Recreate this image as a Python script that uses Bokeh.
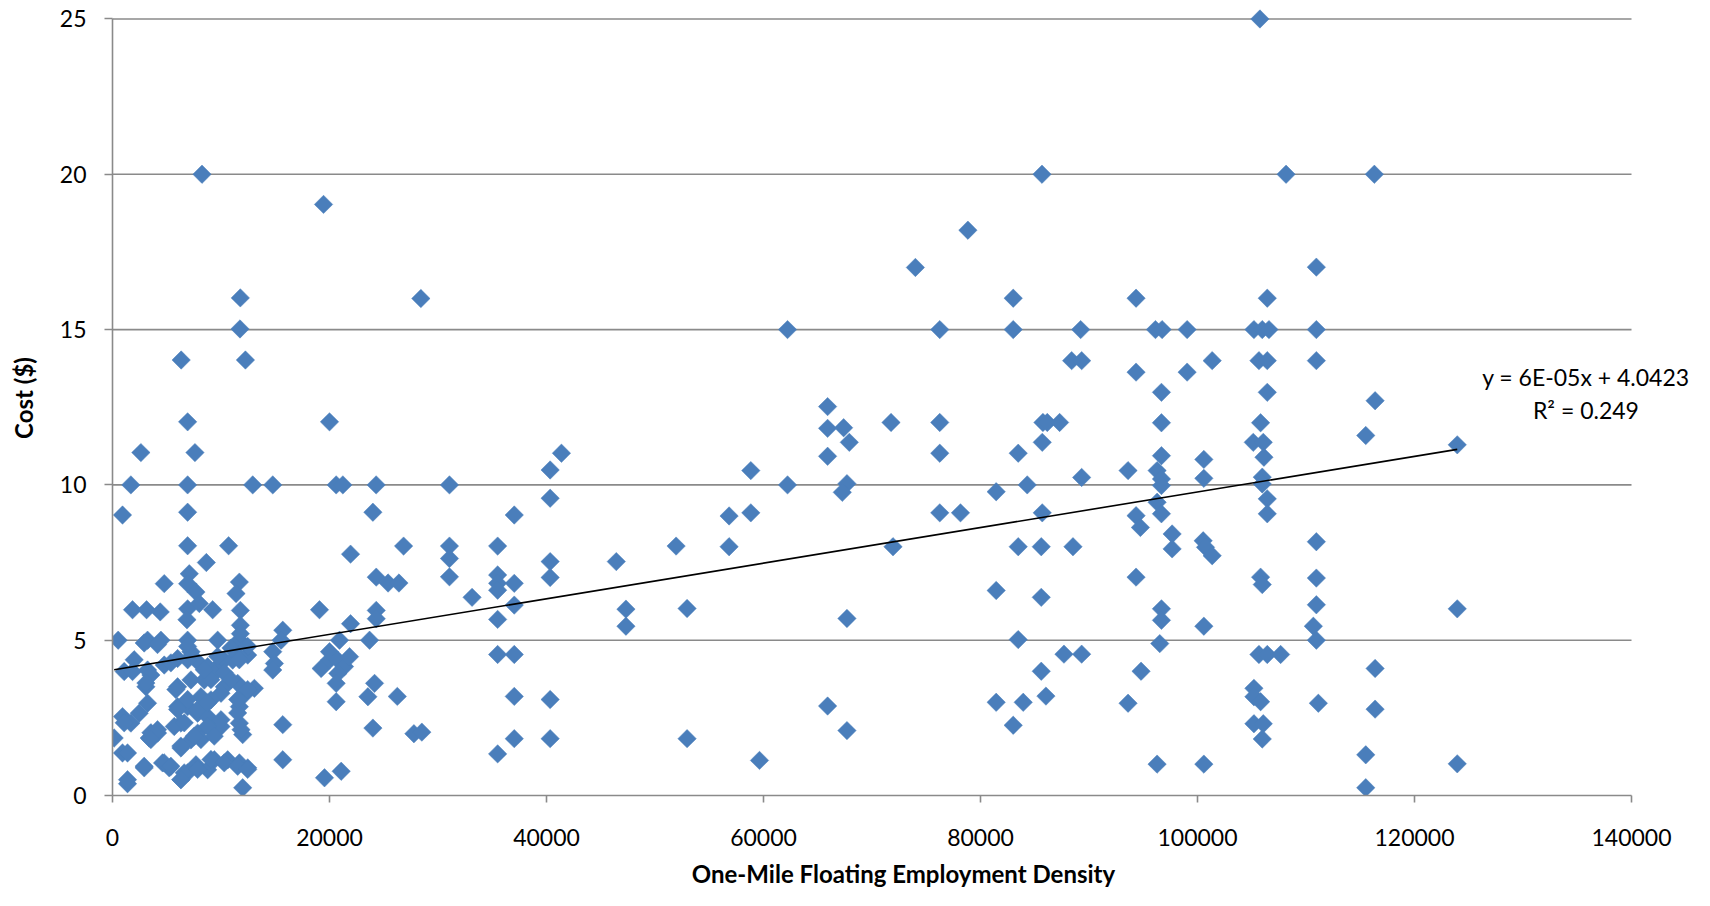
import numpy as np
from bokeh.plotting import figure
from bokeh.models import Label, FixedTicker, BasicTickFormatter
from bokeh.embed import file_html
from bokeh.resources import INLINE

# ---- data ----
# Region A: density below ~29000
dens_a = [8250, 19450, 11780, 11750, 12250, 6330, 28420,
          6923, 20000, 2615, 7600, 1692, 6923, 12923, 14770, 20615, 21230, 24300,
          923, 6923, 24000, 6923, 10700, 21940,
          7077, 8650, 4769, 6923, 7692, 11693, 11385, 24308,
          1846, 3139, 4400, 6923, 6862, 8000, 9231, 11785, 11785, 19077, 24308, 24308,
          21939, 15693, 15539, 523, 3231, 4462, 6923, 9693, 11693, 11785, 23693, 20924,
          1077, 1846, 3231, 4769, 6000, 7231, 7846, 8770, 9693, 10308, 11077, 11693,
          12462, 14770, 14923, 14770, 19231, 20000, 20000, 20770, 21385, 21847, 20770, 20616,
          3077, 3539, 6000, 7231, 8462, 9385, 10308, 11539, 13077, 12154, 11693, 11693,
          12000, 10000, 9077, 8154, 6923, 6000, 6308, 7846, 8770, 9385, 10000, 7846,
          7231, 5692, 3231, 2462, 923, 1692, 154, 923, 3385, 4154, 6308, 2923,
          4615, 5231, 6308, 6923, 7692, 8770, 9385, 10616, 11693, 12462, 1385, 12000,
          15693, 15693, 20616, 23539, 24154, 24000, 19539, 21077,
          25400, 26400, 26829, 26250, 27780, 28510]
cost_a = [20.0, 19.03, 16.02, 15.02, 14.02, 14.02, 16.0,
          12.03, 12.03, 11.04, 11.04, 10.0, 10.0, 10.0, 10.0, 10.0, 10.0, 10.0,
          9.03, 9.12, 9.12, 8.04, 8.04, 7.77,
          7.14, 7.5, 6.82, 6.82, 6.55, 6.87, 6.50, 7.03,
          5.98, 5.98, 5.91, 6.01, 5.66, 6.18, 5.98, 5.96, 5.48, 5.98, 5.96, 5.69,
          5.53, 5.32, 5.0, 5.0, 5.0, 5.0, 5.0, 5.0, 5.0, 5.21, 5.0, 5.0,
          3.99, 3.99, 4.04, 4.20, 4.41, 4.63, 4.31, 4.15, 4.15, 4.36, 4.36, 4.47,
          4.52, 4.63, 4.25, 4.04, 4.09, 4.36, 4.63, 4.36, 4.15, 4.47, 3.93, 3.61,
          3.50, 3.88, 3.50, 3.72, 3.72, 3.93, 3.50, 3.61, 3.45, 3.24, 2.86, 2.33,
          1.96, 3.29, 3.08, 3.18, 2.86, 2.86, 2.33, 2.65, 2.54, 2.22, 2.22, 2.01,
          1.79, 2.22, 2.97, 2.65, 2.54, 2.33, 1.85, 1.37, 1.85, 2.01, 1.53, 0.89,
          1.05, 0.89, 0.51, 0.73, 0.99, 0.83, 1.15, 1.15, 1.05, 0.89, 0.38, 0.25,
          1.15, 2.28, 3.02, 3.18, 3.61, 2.17, 0.57, 0.78,
          6.84, 6.84, 8.03, 3.19, 1.99, 2.04]

# Region A, densest cluster (overlapping markers)
dens_a_cluster = [5843, 6923, 6000, 7846, 8770, 6615, 8770, 10000, 11538, 11846,
                  8150, 9380, 10300, 9075, 8455, 12460, 11538, 3077, 1077, 3538,
                  4150, 4765, 5380, 6615, 7846, 9075, 10300, 11538, 12460, 1385,
                  2918, 1385, 6300, 6300, 3538, 7535, 2000, 2920, 4150, 6923,
                  10920, 12460, 6923, 5380, 9690, 11690, 10920]
cost_a_cluster = [3.41, 3.09, 2.77, 2.77, 2.98, 2.34, 2.23, 2.44, 2.66, 2.12,
                  1.80, 1.91, 3.95, 3.73, 4.05, 3.41, 3.09, 3.62, 2.34, 2.02,
                  2.12, 1.05, 0.94, 0.73, 0.84, 1.16, 1.05, 0.94, 0.84, 1.37,
                  0.94, 0.51, 0.51, 1.59, 1.80, 1.91, 4.37, 4.91, 4.86, 4.80,
                  4.75, 4.80, 4.37, 4.27, 4.48, 4.37, 3.73]

# Region B: density ~29000 - 60000
dens_b = [41378, 40337, 31056, 40337, 37030, 31056, 35497, 31056, 31056, 40337,
          40337, 46432, 51946, 35497, 35497, 35497, 37030, 33140, 37030, 35497,
          47321, 47321, 52957, 35497, 37030, 37030, 40337, 35497, 37030, 40337,
          52957, 58830, 56830, 58830, 56830, 59631]
cost_b = [11.02, 10.48, 10.0, 9.57, 9.03, 8.03, 8.03, 7.63, 7.04, 7.53,
          7.02, 7.53, 8.03, 7.1, 6.83, 6.61, 6.83, 6.38, 6.13, 5.67,
          6.0, 5.45, 6.02, 4.54, 4.54, 3.19, 3.09, 1.34, 1.83, 1.83,
          1.83, 10.46, 9.0, 9.1, 8.01, 1.13]

# Region C: density ~60000 - 92000
dens_c = [74000, 83016, 62215, 76246, 83016, 89231, 88400, 89323, 65908, 65908,
          67385, 67908, 71754, 76246, 76246, 65908, 85754, 86154, 87292, 85692,
          83477, 62215, 67692, 67262, 81446, 84308, 89323, 76246, 78154, 85692,
          71938, 83477, 85600, 88523, 81446, 85600, 67692, 83477, 87692, 89323,
          85600, 86030, 81446, 83938, 83016, 65908, 67692,
          78838, 85667]
cost_c = [17.0, 16.01, 15.0, 15.0, 15.0, 15.0, 14.0, 14.0, 12.52, 11.82,
          11.84, 11.37, 12.01, 12.01, 11.02, 10.92, 12.01, 12.01, 12.01, 11.37,
          11.02, 10.0, 10.04, 9.76, 9.78, 10.0, 10.24, 9.1, 9.1, 9.1,
          8.01, 8.01, 8.01, 8.01, 6.6, 6.38, 5.7, 5.02, 4.55, 4.55,
          4.0, 3.2, 3.0, 3.0, 2.26, 2.88, 2.09,
          18.2, 20.0]

# Region D: density above ~92000
dens_d = [110954, 94338, 106431, 96123, 96738, 99046, 105200, 105969, 106585, 110954,
          101354, 105662, 106431, 110954, 94338, 99046, 96677, 106431, 116369, 96677,
          105815, 115508, 105138, 106062, 96677, 106123, 100585, 93600, 96277, 96677,
          100585, 96677, 105969, 105969, 96277, 106431, 96677, 94338, 106431,
          94738, 97662, 97662, 100523, 100738, 101354, 110954, 94338, 105815, 105969,
          110954, 110954, 96677, 96677, 100585, 110677, 110954, 96523, 105662, 106431,
          107662, 116369, 94800, 105200, 105200, 105815, 111138, 116369, 105200, 106062,
          105969, 93600, 96277, 100585, 115508, 115508,
          123941, 123941, 123941, 108163, 116300, 105753]
cost_d = [17.01, 16.01, 16.01, 15.0, 15.0, 15.0, 15.0, 15.0, 15.0, 15.0,
          14.0, 14.0, 14.0, 14.0, 13.63, 13.63, 12.98, 12.98, 12.71, 12.0,
          12.0, 11.59, 11.37, 11.37, 10.94, 10.89, 10.82, 10.46, 10.46, 10.19,
          10.21, 9.98, 10.25, 10.03, 9.44, 9.55, 9.07, 9.01, 9.07,
          8.63, 8.42, 7.94, 8.2, 7.99, 7.72, 8.17, 7.03, 7.03, 6.79,
          7.0, 6.14, 6.01, 5.64, 5.45, 5.45, 5.0, 4.89, 4.54, 4.54,
          4.54, 4.09, 4.0, 3.45, 3.18, 3.02, 2.97, 2.78, 2.31, 2.31,
          1.82, 2.97, 1.01, 1.01, 1.31, 0.25,
          11.29, 6.01, 1.02, 20.0, 20.0, 25.0]

x_ticks = [0, 20000, 40000, 60000, 80000, 100000, 120000, 140000]
y_ticks = [0, 5, 10, 15, 20, 25]

trend_intercept = 4.0423
trend_slope = 5.73e-05
equation_text = "y = 6E-05x + 4.0423"
r2_text = "R\u00b2 = 0.249"

x_title = "One-Mile Floating Employment Density"
y_title = "Cost ($)"

# ---- layout (pixels) ----
W, H = 1694, 890
LEFT, BOTTOM = 112, 94
AXIS_W = 1519            # pixel width of 0..140000
AXIS_H = 777.5           # pixel height of 0..25
FRAME_W = W - LEFT
FRAME_H = H - BOTTOM

x_lo, x_hi = x_ticks[0], x_ticks[-1]
y_lo, y_hi = y_ticks[0], y_ticks[-1]
x_view_hi = x_hi * FRAME_W / AXIS_W
y_view_hi = y_hi * FRAME_H / AXIS_H

xs = np.array(dens_a + dens_a_cluster + dens_b + dens_c + dens_d, dtype=float)
ys = np.array(cost_a + cost_a_cluster + cost_b + cost_c + cost_d, dtype=float)

FONT = "Lato"
GRAY = "#8a8a8a"

p = figure(width=W, height=H, output_backend="svg", toolbar_location=None,
           x_range=(x_lo, x_view_hi), y_range=(y_lo, y_view_hi),
           min_border_left=LEFT, min_border_right=0, min_border_top=0,
           min_border_bottom=BOTTOM)

p.outline_line_color = None
p.background_fill_color = "white"
p.border_fill_color = "white"
p.xgrid.grid_line_color = None
p.ygrid.grid_line_color = None

# horizontal gridlines limited to the axis span
gy = y_ticks[1:]
p.segment(x0=[x_lo] * len(gy), x1=[x_hi] * len(gy), y0=gy, y1=gy,
          line_color=GRAY, line_width=1.6)

p.xaxis.ticker = FixedTicker(ticks=x_ticks)
p.yaxis.ticker = FixedTicker(ticks=y_ticks)
p.xaxis.formatter = BasicTickFormatter(use_scientific=False)
p.xaxis.bounds = (x_lo, x_hi)
p.yaxis.bounds = (y_lo, y_hi)

for ax in (p.xaxis, p.yaxis):
    ax.axis_line_color = GRAY
    ax.axis_line_width = 1.6
    ax.major_tick_line_color = GRAY
    ax.major_tick_line_width = 1.6
    ax.minor_tick_line_color = None
    ax.major_tick_in = 0
    ax.major_label_text_font = FONT
    ax.major_label_text_font_size = "23px"
    ax.major_label_text_color = "black"
    ax.axis_label_text_font = FONT
    ax.axis_label_text_font_style = "bold"
    ax.axis_label_text_font_size = "24px"
    ax.axis_label_text_color = "black"

p.xaxis.major_tick_out = 7
p.yaxis.major_tick_out = 8
p.xaxis.major_label_standoff = 26
p.yaxis.major_label_standoff = 18
p.xaxis.axis_label = x_title
p.yaxis.axis_label = y_title
p.xaxis.axis_label_standoff = 10
p.yaxis.axis_label_standoff = 19

p.scatter(xs, ys, marker="square", size=13, angle=np.pi / 4,
          fill_color="#4A7EBB", line_color="#4A7EBB", line_width=0.5)

tx = np.array([xs.min(), xs.max()])
p.line(tx, trend_intercept + trend_slope * tx, line_color="black", line_width=1.6)

p.add_layout(Label(x=135800, y=13.48, text=equation_text, text_align="center",
                   text_baseline="middle", text_font=FONT, text_font_size="23px",
                   text_color="black"))
p.add_layout(Label(x=135800, y=12.41, text=r2_text, text_align="center",
                   text_baseline="middle", text_font=FONT, text_font_size="23px",
                   text_color="black"))

open("out.html", "w").write(file_html(p, INLINE))
